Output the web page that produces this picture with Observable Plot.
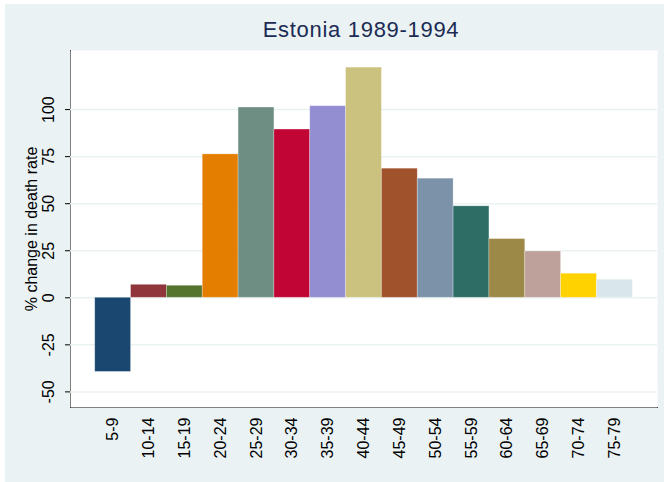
<!DOCTYPE html>
<html>
<head>
<meta charset="utf-8">
<script src="https://cdn.jsdelivr.net/npm/d3@7"></script>
<script src="https://cdn.jsdelivr.net/npm/@observablehq/plot@0.6"></script>
<style>
  html, body { margin: 0; padding: 0; background: #ffffff; }
  #page { position: relative; width: 664px; height: 482px; overflow: hidden; background: #ffffff; font-family: "Liberation Sans", Arial, sans-serif; }
  #bg { position: absolute; left: 5px; top: 4px; right: 0; bottom: 0; background: #eaf2f3; }
  #title { position: absolute; left: 70px; width: 582px; top: 19px; text-align: center; font-size: 22px; line-height: 22px; letter-spacing: 0.7px; color: #1c2b54; }
  #chart { position: absolute; left: 5px; top: 40px; }
</style>
</head>
<body>
<div id="page">
  <div id="bg"></div>
  <div id="title">Estonia 1989-1994</div>
  <div id="chart"></div>
</div>
<script>
const ageGroups = ["5-9","10-14","15-19","20-24","25-29","30-34","35-39","40-44","45-49","50-54","55-59","60-64","65-69","70-74","75-79"];
const changes = [-39.4, 6.9, 6.4, 76.2, 101.1, 89.4, 101.8, 122.3, 68.6, 63.3, 48.6, 31.2, 24.6, 12.8, 9.6];
const barColors = ["#1a476f","#90353b","#55752f","#e37e00","#6e8e84","#c10534","#938dd2","#cac27e","#a0522d","#7b92a8","#2d6d66","#9c8847","#bfa19c","#ffd200","#d9e6eb"];
const yTicks = [-50, -25, 0, 25, 50, 75, 100];
const yDomain = [-58.3, 131.4];
const yLabel = "% change in death rate";

const data = ageGroups.map((a, i) => ({age: a, value: changes[i], color: barColors[i]}));

const chart = Plot.plot({
  width: 659,
  height: 442,
  marginLeft: 65,
  marginRight: 7,
  marginTop: 10,
  marginBottom: 75,
  style: {background: "transparent", fontFamily: "'Liberation Sans', Arial, sans-serif", fontSize: "16px", color: "#000"},
  x: {domain: ageGroups, paddingInner: 0, paddingOuter: 0.69, round: false, label: null, tickSize: 0, tickPadding: 10, tickRotate: -90, line: true},
  y: {domain: yDomain, ticks: yTicks, tickFormat: d => String(d), tickSize: 5, tickPadding: 12, tickRotate: -90, line: true, label: null},
  color: {type: "identity"},
  marks: [
    Plot.frame({fill: "white", stroke: null}),
    Plot.ruleY(yTicks, {stroke: "#eaf2f3", strokeWidth: 1.5}),
    Plot.barY(data, {x: "age", y: "value", fill: "color", stroke: "white", strokeOpacity: 0.35, strokeWidth: 0.8}),
    Plot.text([yLabel], {text: d => d, frameAnchor: "left", rotate: -90, dx: -39, fontSize: 16, fill: "black", textAnchor: "middle"})
  ]
});
document.getElementById("chart").appendChild(chart);
</script>
</body>
</html>
